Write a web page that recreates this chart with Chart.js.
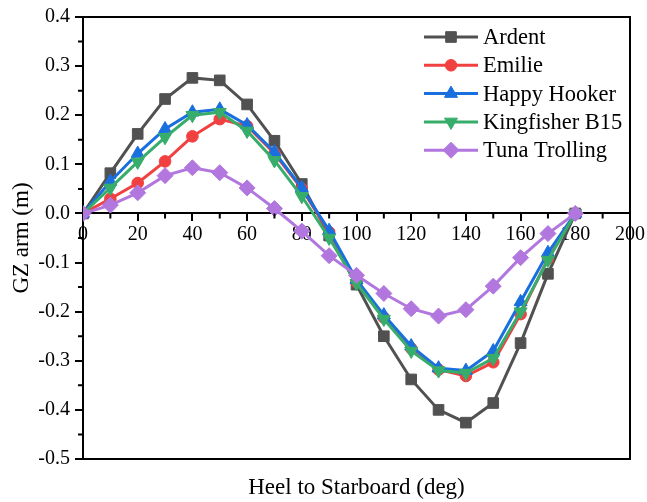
<!DOCTYPE html>
<html>
<head>
<meta charset="utf-8">
<script src="https://cdn.jsdelivr.net/npm/chart.js@4/dist/chart.umd.min.js"></script>
<style>
  html, body { margin: 0; padding: 0; background: #fff; }
  #wrap { width: 647px; height: 502px; }
</style>
</head>
<body>
<div id="wrap"><canvas id="gz"></canvas></div>
<script>
// heel angles (deg) and GZ arm (m) per vessel
const heel = [0, 10, 20, 30, 40, 50, 60, 70, 80, 90, 100, 110, 120, 130, 140, 150, 160, 170, 180];
const ardent = [0, 0.082, 0.162, 0.233, 0.276, 0.271, 0.222, 0.148, 0.060, -0.045, -0.145, -0.250, -0.338, -0.400, -0.426, -0.386, -0.264, -0.123, 0];
const emilie = [0, 0.030, 0.062, 0.106, 0.157, 0.192, 0.178, 0.122, 0.050, -0.038, -0.140, -0.212, -0.275, -0.318, -0.331, -0.303, -0.205, -0.092, 0];
const happyHooker = [0, 0.065, 0.122, 0.172, 0.206, 0.212, 0.180, 0.125, 0.052, -0.035, -0.135, -0.207, -0.270, -0.315, -0.320, -0.280, -0.180, -0.080, 0];
const kingfisher = [0, 0.052, 0.105, 0.155, 0.200, 0.206, 0.168, 0.108, 0.035, -0.050, -0.142, -0.215, -0.280, -0.320, -0.325, -0.295, -0.200, -0.095, 0];
const tuna = [0, 0.017, 0.042, 0.077, 0.093, 0.083, 0.052, 0.010, -0.036, -0.086, -0.126, -0.163, -0.194, -0.209, -0.196, -0.148, -0.090, -0.041, 0];

const seriesNames = ['Ardent', 'Emilie', 'Happy Hooker', 'Kingfisher B15', 'Tuna Trolling'];
const xTicks = [0, 20, 40, 60, 80, 100, 120, 140, 160, 180, 200];
const yTicks = [-0.5, -0.4, -0.3, -0.2, -0.1, 0, 0.1, 0.2, 0.3, 0.4];

const FONT = 'Liberation Serif, Times New Roman, serif';

// style per series
const styles = [
    { color: '#515151', pointStyle: 'rect',     radius: 7.5, rotation: 0 },
    { color: '#F14040', pointStyle: 'circle',   radius: 5.8, rotation: 0 },
    { color: '#1A6FDF', pointStyle: 'triangle', radius: 7.5, rotation: 0 },
    { color: '#37AD6B', pointStyle: 'triangle', radius: 7.5, rotation: 180 },
    { color: '#B177DE', pointStyle: 'rectRot',  radius: 8,   rotation: 0 },
];
const values = [ardent, emilie, happyHooker, kingfisher, tuna];

const datasets = values.map((vals, i) => ({
    label: seriesNames[i],
    data: heel.map((h, k) => ({ x: h, y: vals[k] })),
    borderColor: styles[i].color,
    backgroundColor: styles[i].color,
    borderWidth: 3,
    pointStyle: styles[i].pointStyle,
    pointRadius: styles[i].radius,
    pointRotation: styles[i].rotation,
    pointBorderWidth: 1,
    pointBorderColor: styles[i].color,
    pointBackgroundColor: styles[i].color,
    tension: 0,
    order: values.length - i,
    xAxisID: 'x',
    yAxisID: 'y',
}));

// frame, minor ticks and legend
const decor = {
    id: 'decor',
    afterDraw(chart) {
        const { ctx, chartArea: a, scales } = chart;
        const y = scales.y, x0 = scales.x0;
        ctx.save();
        ctx.strokeStyle = '#000';
        ctx.lineWidth = 2;
        ctx.beginPath();
        ctx.moveTo(a.left, a.top); ctx.lineTo(a.right, a.top); ctx.lineTo(a.right, a.bottom);
        ctx.stroke();
        // minor ticks
        ctx.beginPath();
        for (let v = -0.45; v < 0.4; v += 0.1) {
            const py = y.getPixelForValue(v);
            ctx.moveTo(a.left - 5, py); ctx.lineTo(a.left, py);
        }
        const py0 = y.getPixelForValue(0);
        for (let v = 10; v < 200; v += 20) {
            const px = x0.getPixelForValue(v);
            ctx.moveTo(px, py0); ctx.lineTo(px, py0 + 5);
        }
        ctx.stroke();
        // legend
        const lx1 = 424, lx2 = 478, tx = 483;
        let ly = 37;
        ctx.font = '22.5px ' + FONT;
        ctx.textBaseline = 'middle';
        ctx.textAlign = 'left';
        styles.forEach((s, i) => {
            ctx.strokeStyle = s.color;
            ctx.lineWidth = 3;
            ctx.beginPath(); ctx.moveTo(lx1, ly); ctx.lineTo(lx2, ly); ctx.stroke();
            ctx.fillStyle = s.color;
            ctx.lineWidth = 1;
            Chart.helpers.drawPoint(ctx, { pointStyle: s.pointStyle, radius: s.radius, rotation: s.rotation, borderWidth: 1 }, (lx1 + lx2) / 2, ly);
            ctx.fillStyle = '#000';
            ctx.fillText(seriesNames[i], tx, ly + 1);
            ly += 28.3;
        });
        ctx.restore();
    }
};

new Chart(document.getElementById('gz').getContext('2d'), {
    type: 'line',
    data: { datasets },
    options: {
        responsive: true,
        maintainAspectRatio: false,
        animation: false,
        layout: { padding: { top: 17, right: 15, left: 0, bottom: 0 } },
        plugins: { legend: { display: false }, tooltip: { enabled: false } },
        scales: {
            x: {
                type: 'linear', position: 'bottom', min: 0, max: 200,
                ticks: { display: false },
                grid: { display: false },
                border: { display: true, color: '#000', width: 2 },
                title: { display: true, text: 'Heel to Starboard (deg)', color: '#000', font: { family: FONT, size: 23 }, padding: 0 },
                afterFit(s) { s.height = 43; },
            },
            x0: {
                type: 'linear', position: { y: 0 }, min: 0, max: 200,
                afterBuildTicks(s) { s.ticks = xTicks.map(v => ({ value: v })); },
                ticks: { color: '#000', font: { family: FONT, size: 20 }, padding: 2, maxRotation: 0, callback: v => String(v) },
                grid: { display: true, drawOnChartArea: false, drawTicks: true, tickLength: 7, color: '#000', lineWidth: 2 },
                border: { display: true, color: '#000', width: 2 },
            },
            y: {
                type: 'linear', position: 'left', min: -0.5, max: 0.4,
                afterBuildTicks(s) { s.ticks = yTicks.map(v => ({ value: v })); },
                ticks: { color: '#000', font: { family: FONT, size: 20 }, padding: 5, callback: v => Number(v).toFixed(1) },
                grid: { display: true, drawOnChartArea: false, drawTicks: true, tickLength: 8, color: '#000', lineWidth: 2 },
                border: { display: true, color: '#000', width: 2 },
                title: { display: true, text: 'GZ arm (m)', color: '#000', font: { family: FONT, size: 23 }, padding: { top: 8, bottom: 0 } },
                afterFit(s) { s.width = 83; },
            },
        },
    },
    plugins: [decor],
});
</script>
</body>
</html>
